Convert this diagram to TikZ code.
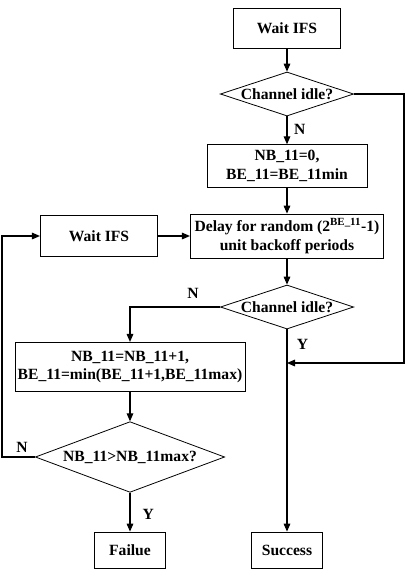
\documentclass[tikz,border=0pt]{standalone}
\usepackage{fontspec}
\setmainfont{Liberation Serif}
\usetikzlibrary{arrows.meta,shapes.geometric}

\tikzset{
  stepbox/.style={draw, line width=0.6pt, align=center, inner sep=2pt},
  decision/.style={draw, diamond, line width=0.6pt, inner sep=0pt, aspect=3},
  flow/.style={line width=0.8pt, -{Triangle[length=6pt,width=5pt]}},
  link/.style={line width=0.8pt},
  tag/.style={inner sep=0pt}
}

\begin{document}
\begin{tikzpicture}[x=0.75pt, y=-0.75pt, font=\fontsize{11.7}{14}\selectfont\bfseries]
   \useasboundingbox (0,0) rectangle (409,572);
   % main column
   \node[stepbox, minimum width=80pt, minimum height=30pt] (wait) at (287,28) {Wait IFS};
   \node[decision, minimum width=100pt, minimum height=33pt] (idle) at (287,94) {Channel idle?};
   \node[stepbox, minimum width=120pt, minimum height=32pt] (init) at (287,166) {NB\_11=0,\\BE\_11=BE\_11min};
   \node[stepbox, minimum width=145pt, minimum height=33pt] (delay) at (287,236) {Delay for random (2\textsuperscript{BE\_11}-1)\\unit backoff periods};
   \node[decision, minimum width=100pt, minimum height=33pt] (cca) at (287,307) {Channel idle?};
   \node[stepbox, minimum width=53pt, minimum height=27pt] (success) at (287,550) {Success};
   % left column
   \node[stepbox, minimum width=88pt, minimum height=31pt] (retry) at (99,236) {Wait IFS};
   \node[stepbox, minimum width=170pt, minimum height=37pt] (incr) at (130,367) {NB\_11=NB\_11+1,\\BE\_11=min(BE\_11+1,BE\_11max)};
   \node[decision, minimum width=142pt, minimum height=53pt] (limit) at (130,457) {NB\_11>NB\_11max?};
   \node[stepbox, minimum width=53pt, minimum height=27pt] (fail) at (130,550) {Failue};
   \coordinate (merge) at (287,363);

   \draw[flow] (wait) -- (idle);
   \draw[flow] (idle) -- node[tag, right=5pt, pos=0.45] {N} (init);
   \draw[flow] (init) -- (delay);
   \draw[flow] (retry) -- (delay);
   \draw[flow] (delay) -- (cca);
   \draw[link] (cca.south) -- (merge) node[tag, pos=0.45, right=7pt] {Y};
   \draw[flow] (merge) -- (success);
   \draw[flow] (idle.east) -- (404,94) |- (merge);
   \draw[flow] (cca.west) -| (incr.north);
   \node[tag] at (193,293) {N};
   \draw[flow] (incr) -- (limit);
   \draw[flow] (limit) -- node[tag, right=9pt, pos=0.55] {Y} (fail);
   \draw[flow] (limit.west) -- (2,457) |- (retry.west);
   \node[tag] at (22,447) {N};
\end{tikzpicture}
\end{document}
